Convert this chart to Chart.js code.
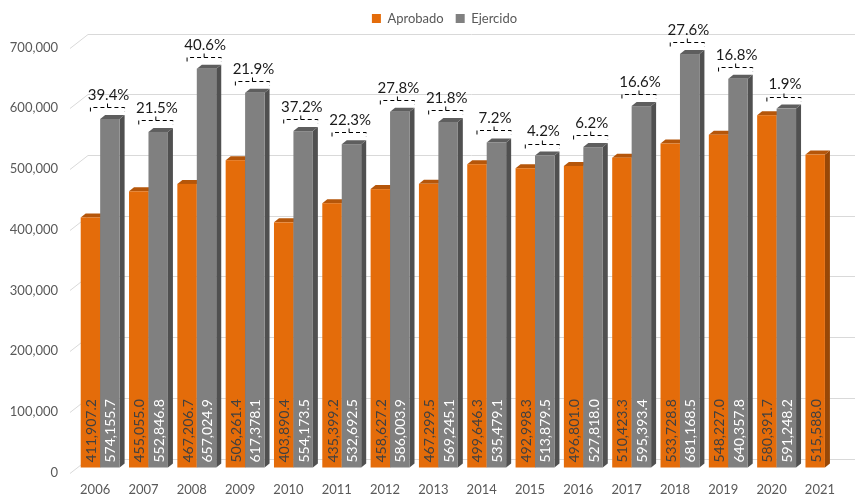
<!DOCTYPE html>
<html>
<head>
<meta charset="utf-8">
<script src="https://cdn.jsdelivr.net/npm/chart.js@4/dist/chart.umd.min.js"></script>
<style>
  html, body { margin: 0; padding: 0; background: #fff; }
  #wrap { width: 855px; height: 498px; }
</style>
</head>
<body>
<div id="wrap"><canvas id="chart"></canvas></div>
<script>
const years = ['2006', '2007', '2008', '2009', '2010', '2011', '2012', '2013', '2014', '2015', '2016', '2017', '2018', '2019', '2020', '2021']
const aprobado = [411907.2, 455055.0, 467206.7, 506261.4, 403890.4, 435399.2, 458627.2, 467299.5, 499646.3, 492998.3, 496801.0, 510423.3, 533728.8, 548227.0, 580391.7, 515588.0]
const ejercido = [574155.7, 552846.8, 657024.9, 617378.1, 554173.5, 532692.5, 586003.9, 569245.1, 535479.1, 513879.5, 527818.0, 595393.4, 681168.5, 640357.8, 591248.2, null]
const variacion = ['39.4%', '21.5%', '40.6%', '21.9%', '37.2%', '22.3%', '27.8%', '21.8%', '7.2%', '4.2%', '6.2%', '16.6%', '27.6%', '16.8%', '1.9%', null]

const FONT = 'Lato, "Open Sans", sans-serif'
const depthX = 5, depthY = 4
const shades = [
  { front: '#E46C0A', side: '#984807', top: '#B5560A', label: '#404040' },
  { front: '#808080', side: '#505050', top: '#5E5E5E', label: '#FFFFFF' }
]

const fmt = v => v.toLocaleString('en-US', { minimumFractionDigits: 1, maximumFractionDigits: 1 })

function drawBar(ctx, bar, c) {
  const x0 = bar.x - bar.width / 2, x1 = bar.x + bar.width / 2
  const top = bar.y, bot = bar.base
  // right side face
  ctx.fillStyle = c.side
  ctx.beginPath()
  ctx.moveTo(x1, top); ctx.lineTo(x1 + depthX, top - depthY)
  ctx.lineTo(x1 + depthX, bot - depthY); ctx.lineTo(x1, bot)
  ctx.closePath(); ctx.fill()
  // top cap
  ctx.fillStyle = c.top
  ctx.beginPath()
  ctx.moveTo(x0, top); ctx.lineTo(x0 + depthX, top - depthY)
  ctx.lineTo(x1 + depthX, top - depthY); ctx.lineTo(x1, top)
  ctx.closePath(); ctx.fill()
  // front
  ctx.fillStyle = c.front
  ctx.fillRect(x0, top, x1 - x0, bot - top)
}

const bars3d = {
  id: 'bars3d',
  beforeInit(chart) {
    // make legend box as tall as the space above the plot
    const legend = chart.legend
    const fit = legend.fit
    legend.fit = function () { fit.call(this); this.height = 42.6 }
  },
  afterLayout(chart) {
    chart.legend.left += 17
    chart.legend.right += 17
  },
  beforeDatasetsDraw(chart) {
    const { ctx, chartArea, scales: { y } } = chart
    // gridlines with the back-wall slant
    ctx.save()
    ctx.strokeStyle = '#D9D9D9'
    ctx.lineWidth = 1
    y.ticks.forEach(t => {
      const p = Math.round(y.getPixelForValue(t.value)) + 0.5
      ctx.beginPath()
      ctx.moveTo(chartArea.left - 6, p + 5)
      ctx.lineTo(chartArea.left + 12, p - 9)
      ctx.lineTo(chart.width, p - 9)
      ctx.stroke()
    })
    const m0 = chart.getDatasetMeta(0), m1 = chart.getDatasetMeta(1)
    years.forEach((_, i) => {
      if (aprobado[i] != null) drawBar(ctx, m0.data[i], shades[0])
      if (ejercido[i] != null) drawBar(ctx, m1.data[i], shades[1])
    })
    ctx.restore()
    return false
  },
  afterDraw(chart) {
    const { ctx } = chart
    const m0 = chart.getDatasetMeta(0), m1 = chart.getDatasetMeta(1)
    ctx.save()
    // value labels inside bars
    ctx.font = '14px ' + FONT
    ctx.textAlign = 'left'
    ctx.textBaseline = 'middle'
    ;[aprobado, ejercido].forEach((arr, d) => {
      const meta = d ? m1 : m0
      arr.forEach((v, i) => {
        if (v == null) return
        const b = meta.data[i]
        ctx.save()
        ctx.translate(b.x, b.base - 5)
        ctx.rotate(-Math.PI / 2)
        ctx.fillStyle = shades[d].label
        ctx.fillText(fmt(v), 0, 1)
        ctx.restore()
      })
    })
    // percentage brackets
    variacion.forEach((txt, i) => {
      if (!txt) return
      const o = m0.data[i], g = m1.data[i]
      const top = Math.min(o.y, g.y)
      const L = Math.round(top - 12) + 0.5
      const xa = o.x, xb = g.x + g.width / 2 + depthX
      const mid = (xa + xb) / 2
      ctx.strokeStyle = '#000'
      ctx.lineWidth = 1
      ctx.setLineDash([4, 3])
      ctx.beginPath()
      ctx.moveTo(xa, L + 4); ctx.lineTo(xa, L); ctx.lineTo(xb, L); ctx.lineTo(xb, L + 4)
      ctx.moveTo(mid, L); ctx.lineTo(mid, L - 4)
      ctx.stroke()
      ctx.setLineDash([])
      ctx.fillStyle = '#1A1A1A'
      ctx.font = '15px ' + FONT
      ctx.textAlign = 'center'
      ctx.textBaseline = 'middle'
      ctx.fillText(txt, mid + 1, top - 24)
    })
    ctx.restore()
  }
}

new Chart(document.getElementById('chart'), {
  type: 'bar',
  data: {
    labels: years,
    datasets: [
      { label: 'Aprobado', data: aprobado, backgroundColor: shades[0].front },
      { label: 'Ejercido', data: ejercido, backgroundColor: shades[1].front }
    ]
  },
  options: {
    responsive: true,
    maintainAspectRatio: false,
    animation: false,
    categoryPercentage: 0.805,
    barPercentage: 1.0,
    layout: { padding: 0 },
    plugins: {
      legend: {
        position: 'top',
        labels: {
          boxWidth: 9,
          boxHeight: 9,
          padding: 12,
          color: '#595959',
          font: { family: FONT, size: 13 }
        }
      },
      tooltip: { enabled: false }
    },
    scales: {
      x: {
        grid: { display: false, drawTicks: false },
        border: { display: false },
        ticks: {
          color: '#595959',
          font: { family: FONT, size: 13 },
          padding: 15,
          labelOffset: -5,
          maxRotation: 0
        },
        afterFit: s => { s.height = 30.5 }
      },
      y: {
        min: 0,
        max: 700000,
        grid: { display: false, drawTicks: false },
        border: { display: false },
        ticks: {
          stepSize: 100000,
          color: '#595959',
          font: { family: FONT, size: 13 },
          padding: 18,
          labelOffset: 5,
          callback: v => v.toLocaleString('en-US')
        },
        afterFit: s => { s.width = 76 }
      }
    }
  },
  plugins: [bars3d]
})
</script>
</body>
</html>
